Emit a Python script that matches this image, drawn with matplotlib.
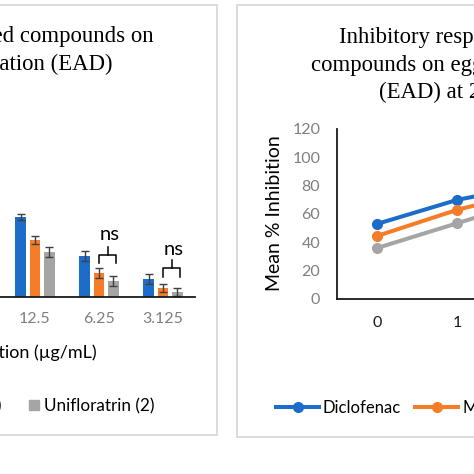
import matplotlib
matplotlib.use('Agg')
import matplotlib.pyplot as plt
from matplotlib.patches import Rectangle, Patch
import numpy as np

# bar panel (EAD at different concentrations), only the right part is visible
conc = ['12.5', '6.25', '3.125']
dic_bar = [56.5, 28.9, 12.7]
dic_err = [2.1, 3.5, 3.5]
m1_bar = [40.2, 17.0, 6.4]
m1_err = [2.8, 3.5, 2.8]
u2_bar = [31.8, 11.3, 3.5]
u2_err = [3.5, 3.5, 2.8]

# line panel (EAD over time), only the left part is visible
hours = ['0', '1', '2']
dic_line = [53.0, 70.0, 81.0]
m1_line = [44.5, 63.0, 77.0]
u2_line = [36.0, 53.5, 71.0]

names = ['Diclofenac', 'Multiflorin (1)', 'Unifloratrin (2)']
line_names = ['Diclofenac', 'Multiflorin', 'Unifloratrin']

BLUE = '#1C6CC9'
ORANGE = '#F57D28'
GRAY = '#A5A5A5'
SANS = ['Lato', 'DejaVu Sans']
SERIF = ['Liberation Serif', 'DejaVu Serif']

W = 474.0
def fx(px):
    return px / W
def fy(py):
    return 1 - py / W

fig = plt.figure(figsize=(4.74, 4.74), dpi=100)

# panel frames
fig.add_artist(Rectangle((fx(-240), fy(435)), (217 + 240) / W, (435 - 4.5) / W,
                         transform=fig.transFigure, facecolor='white',
                         edgecolor='#d9d9d9', lw=1.3, zorder=0))
fig.add_artist(Rectangle((fx(237), fy(437)), (700 - 237) / W, (437 - 4.5) / W,
                         transform=fig.transFigure, facecolor='white',
                         edgecolor='#d9d9d9', lw=1.3, zorder=0))

# ---- left: bars
ax1 = fig.add_axes([fx(-189), fy(297), (195 + 189) / W, 170 / W])
ax1.set_facecolor('none')
x = np.arange(len(conc))
bw = 0.17
ek = dict(ecolor='#404040', elinewidth=1.0, capsize=2.9, capthick=1.0)
ax1.bar(x - 0.22, dic_bar, bw, yerr=dic_err, color=BLUE, error_kw=ek)
ax1.bar(x, m1_bar, bw, yerr=m1_err, color=ORANGE, error_kw=ek)
ax1.bar(x + 0.22, u2_bar, bw, yerr=u2_err, color=GRAY, error_kw=ek)
ax1.set_xlim(-3.5, 2.5)
ax1.set_ylim(0, 120)
for s in ['top', 'right', 'left']:
    ax1.spines[s].set_visible(False)
ax1.spines['bottom'].set_color('#1a1a1a')
ax1.spines['bottom'].set_linewidth(1.3)
ax1.set_yticks([])
ax1.set_xticks(x)
ax1.set_xticklabels(conc, family=SANS, fontsize=11.5, color='#7f7f7f')
ax1.tick_params(axis='x', length=0, pad=10.5)

# ns brackets
for gx, ylo, ymid, ytop, ny in [(1, 24.0, 29.6, 35.3, 40.0), (2, 14.1, 20.5, 26.1, 29.6)]:
    xl, xr = gx + 0.0, gx + 0.27
    ax1.plot([xl, xl, xr, xr], [ylo, ymid, ymid, ylo], color='black', lw=1.1)
    xm = (xl + xr) / 2
    ax1.plot([xm, xm], [ymid, ytop], color='black', lw=1.1)
    ax1.text(xm + 0.03, ny, 'ns', family=SANS, fontsize=14.5, ha='center', va='baseline')

fig.text(fx(97), fy(353), 'Concentration (\u00b5g/mL)', family=SANS, fontsize=13,
         ha='right', va='center')

fig.text(fx(154), fy(41.7), 'Inhibitory response of isolated compounds on',
         family=SERIF, fontsize=16.4, ha='right', va='baseline')
fig.text(fx(112), fy(70), 'egg albumin denaturation (EAD)',
         family=SERIF, fontsize=16.4, ha='right', va='baseline')

h1 = [Patch(color=c) for c in (BLUE, ORANGE, GRAY)]
fig.legend(h1, names, loc='center right', bbox_to_anchor=(fx(155), fy(406)),
           ncol=3, frameon=False, prop={'family': SANS, 'size': 12.3},
           handlelength=0.6, handleheight=0.6, handletextpad=0.3,
           columnspacing=1.6, borderpad=0, borderaxespad=0)

# ---- right: lines
ax2 = fig.add_axes([fx(337), fy(299), (738 - 337) / W, 170 / W])
ax2.set_facecolor('none')
xl2 = np.arange(len(hours))
for vals, c, lab in [(dic_line, BLUE, line_names[0]), (m1_line, ORANGE, line_names[1]),
                     (u2_line, GRAY, line_names[2])]:
    ax2.plot(xl2, vals, color=c, lw=2.9, marker='o', ms=7, label=lab)
ax2.set_xlim(-0.5, 4.5)
ax2.set_ylim(0, 120)
ax2.set_yticks(range(0, 121, 20))
ax2.set_xticks(xl2)
ax2.set_xticklabels(hours)
for s in ['top', 'right']:
    ax2.spines[s].set_visible(False)
for s in ['left', 'bottom']:
    ax2.spines[s].set_color('#1a1a1a')
    ax2.spines[s].set_linewidth(1.3)
ax2.tick_params(length=0)
ax2.tick_params(axis='y', pad=12, labelcolor='#7f7f7f', labelsize=11.5)
ax2.tick_params(axis='x', pad=12, labelcolor='#1a1a1a', labelsize=11.5)
for t in ax2.get_xticklabels() + ax2.get_yticklabels():
    t.set_family(SANS)

fig.text(fx(275), fy(213), 'Mean % Inhibition', family=SANS, fontsize=14,
         rotation=90, ha='center', va='center')

fig.text(fx(339), fy(42.7), 'Inhibitory response of isolated',
         family=SERIF, fontsize=16.4, ha='left', va='baseline')
fig.text(fx(311), fy(70.7), 'compounds on egg albumin denaturation',
         family=SERIF, fontsize=16.4, ha='left', va='baseline')
fig.text(fx(379), fy(98), '(EAD) at 200 \u00b5g/mL',
         family=SERIF, fontsize=16.4, ha='left', va='baseline')

ax2.legend(loc='center left', bbox_to_anchor=(fx(276), fy(408)),
           bbox_transform=fig.transFigure, ncol=3, frameon=False,
           prop={'family': SANS, 'size': 12}, handlelength=2.58,
           handletextpad=0.24, columnspacing=0.84, borderpad=0, borderaxespad=0)

fig.savefig('out.png', dpi=100)
